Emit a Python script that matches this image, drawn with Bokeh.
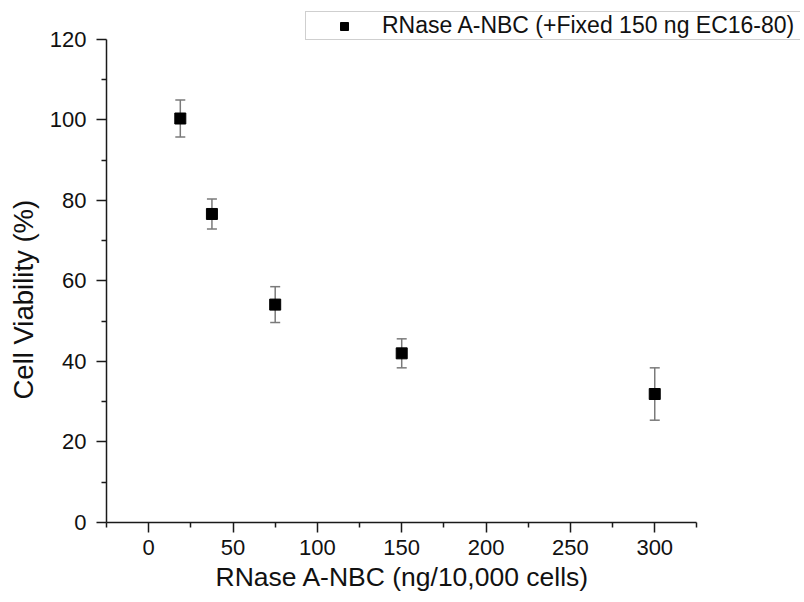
from bokeh.plotting import figure
from bokeh.models import (ColumnDataSource, Whisker, Legend, LegendItem, Range1d,
                          FixedTicker, TeeHead, Title)
from bokeh.embed import file_html
from bokeh.resources import INLINE

# data
dose = [18.75, 37.5, 75, 150, 300]
viability = [100.3, 76.6, 54.1, 42.0, 31.9]
sd = [4.6, 3.7, 4.45, 3.6, 6.5]
x_ticks = [0, 50, 100, 150, 200, 250, 300]
x_minor = [-25, 25, 75, 125, 175, 225, 275, 325]
y_ticks = [0, 20, 40, 60, 80, 100, 120]
y_minor = [10, 30, 50, 70, 90, 110]
x_axis_bounds = (-25, 325)
y_axis_bounds = (0, 120)
series_label = "RNase A-NBC (+Fixed 150 ng EC16-80)"
x_title = "RNase A-NBC (ng/10,000 cells)"
y_title = "Cell Viability (%)"

# visible ranges extend past the axes so the legend (above/right of axes) is not clipped
X_END = 386.4
Y_END = 129.6

src = ColumnDataSource(dict(
    x=dose, y=viability,
    upper=[v + e for v, e in zip(viability, sd)],
    lower=[v - e for v, e in zip(viability, sd)],
))

FONT = "Liberation Sans"
AX = "#1a1a1a"
ERR = "#7a7a7a"

p = figure(width=800, height=600, output_backend="svg", toolbar_location=None,
           x_range=Range1d(x_axis_bounds[0], X_END), y_range=Range1d(0, Y_END),
           min_border_left=106, min_border_right=0, min_border_top=0,
           min_border_bottom=78)
p.outline_line_color = None
p.xgrid.visible = False
p.ygrid.visible = False
p.background_fill_color = "white"
p.border_fill_color = "white"

w = Whisker(source=src, base="x", upper="upper", lower="lower",
            line_color=ERR, line_width=1.5,
            upper_head=TeeHead(size=10, line_color=ERR, line_width=1.5),
            lower_head=TeeHead(size=10, line_color=ERR, line_width=1.5))
w.level = "underlay"
p.add_layout(w)

r = p.scatter("x", "y", source=src, marker="square", size=11,
              fill_color="black", line_color="black")

for ax in (p.xaxis[0], p.yaxis[0]):
    ax.axis_line_color = AX
    ax.axis_line_width = 1.5
    ax.major_tick_line_color = AX
    ax.major_tick_line_width = 1.5
    ax.minor_tick_line_color = AX
    ax.minor_tick_line_width = 1.5
    ax.major_tick_out = 10
    ax.major_tick_in = 0
    ax.minor_tick_out = 5
    ax.minor_tick_in = 0
    ax.major_label_text_font = FONT
    ax.major_label_text_font_size = "22px"
    ax.major_label_text_color = "#111111"

p.xaxis.bounds = x_axis_bounds
p.yaxis.bounds = y_axis_bounds
p.xaxis.ticker = FixedTicker(ticks=x_ticks, minor_ticks=x_minor)
p.yaxis.ticker = FixedTicker(ticks=y_ticks, minor_ticks=y_minor)
p.xaxis.major_label_standoff = 7
p.yaxis.major_label_standoff = 10

tx = Title(text=x_title, align="left", offset=109, vertical_align="top",
           standoff=9, text_font=FONT, text_font_size="26.5px",
           text_font_style="normal", text_color="#111111")
p.add_layout(tx, "below")
ty = Title(text=y_title, align="left", offset=123, vertical_align="top",
           standoff=11, text_font=FONT, text_font_size="27.5px",
           text_font_style="normal", text_color="#111111")
p.add_layout(ty, "left")

legend = Legend(items=[LegendItem(label=series_label, renderers=[r])],
                location=(199, 482), margin=0, padding=0,
                glyph_width=76, glyph_height=20, label_standoff=0,
                label_width=440, label_height=20,
                label_text_font=FONT, label_text_font_size="23px",
                label_text_line_height=0.8,
                label_text_color="#111111",
                border_line_color="#a0a0a0", border_line_width=1,
                background_fill_color="white", background_fill_alpha=1)
p.add_layout(legend, "center")

open("out.html", "w").write(file_html(p, INLINE))
